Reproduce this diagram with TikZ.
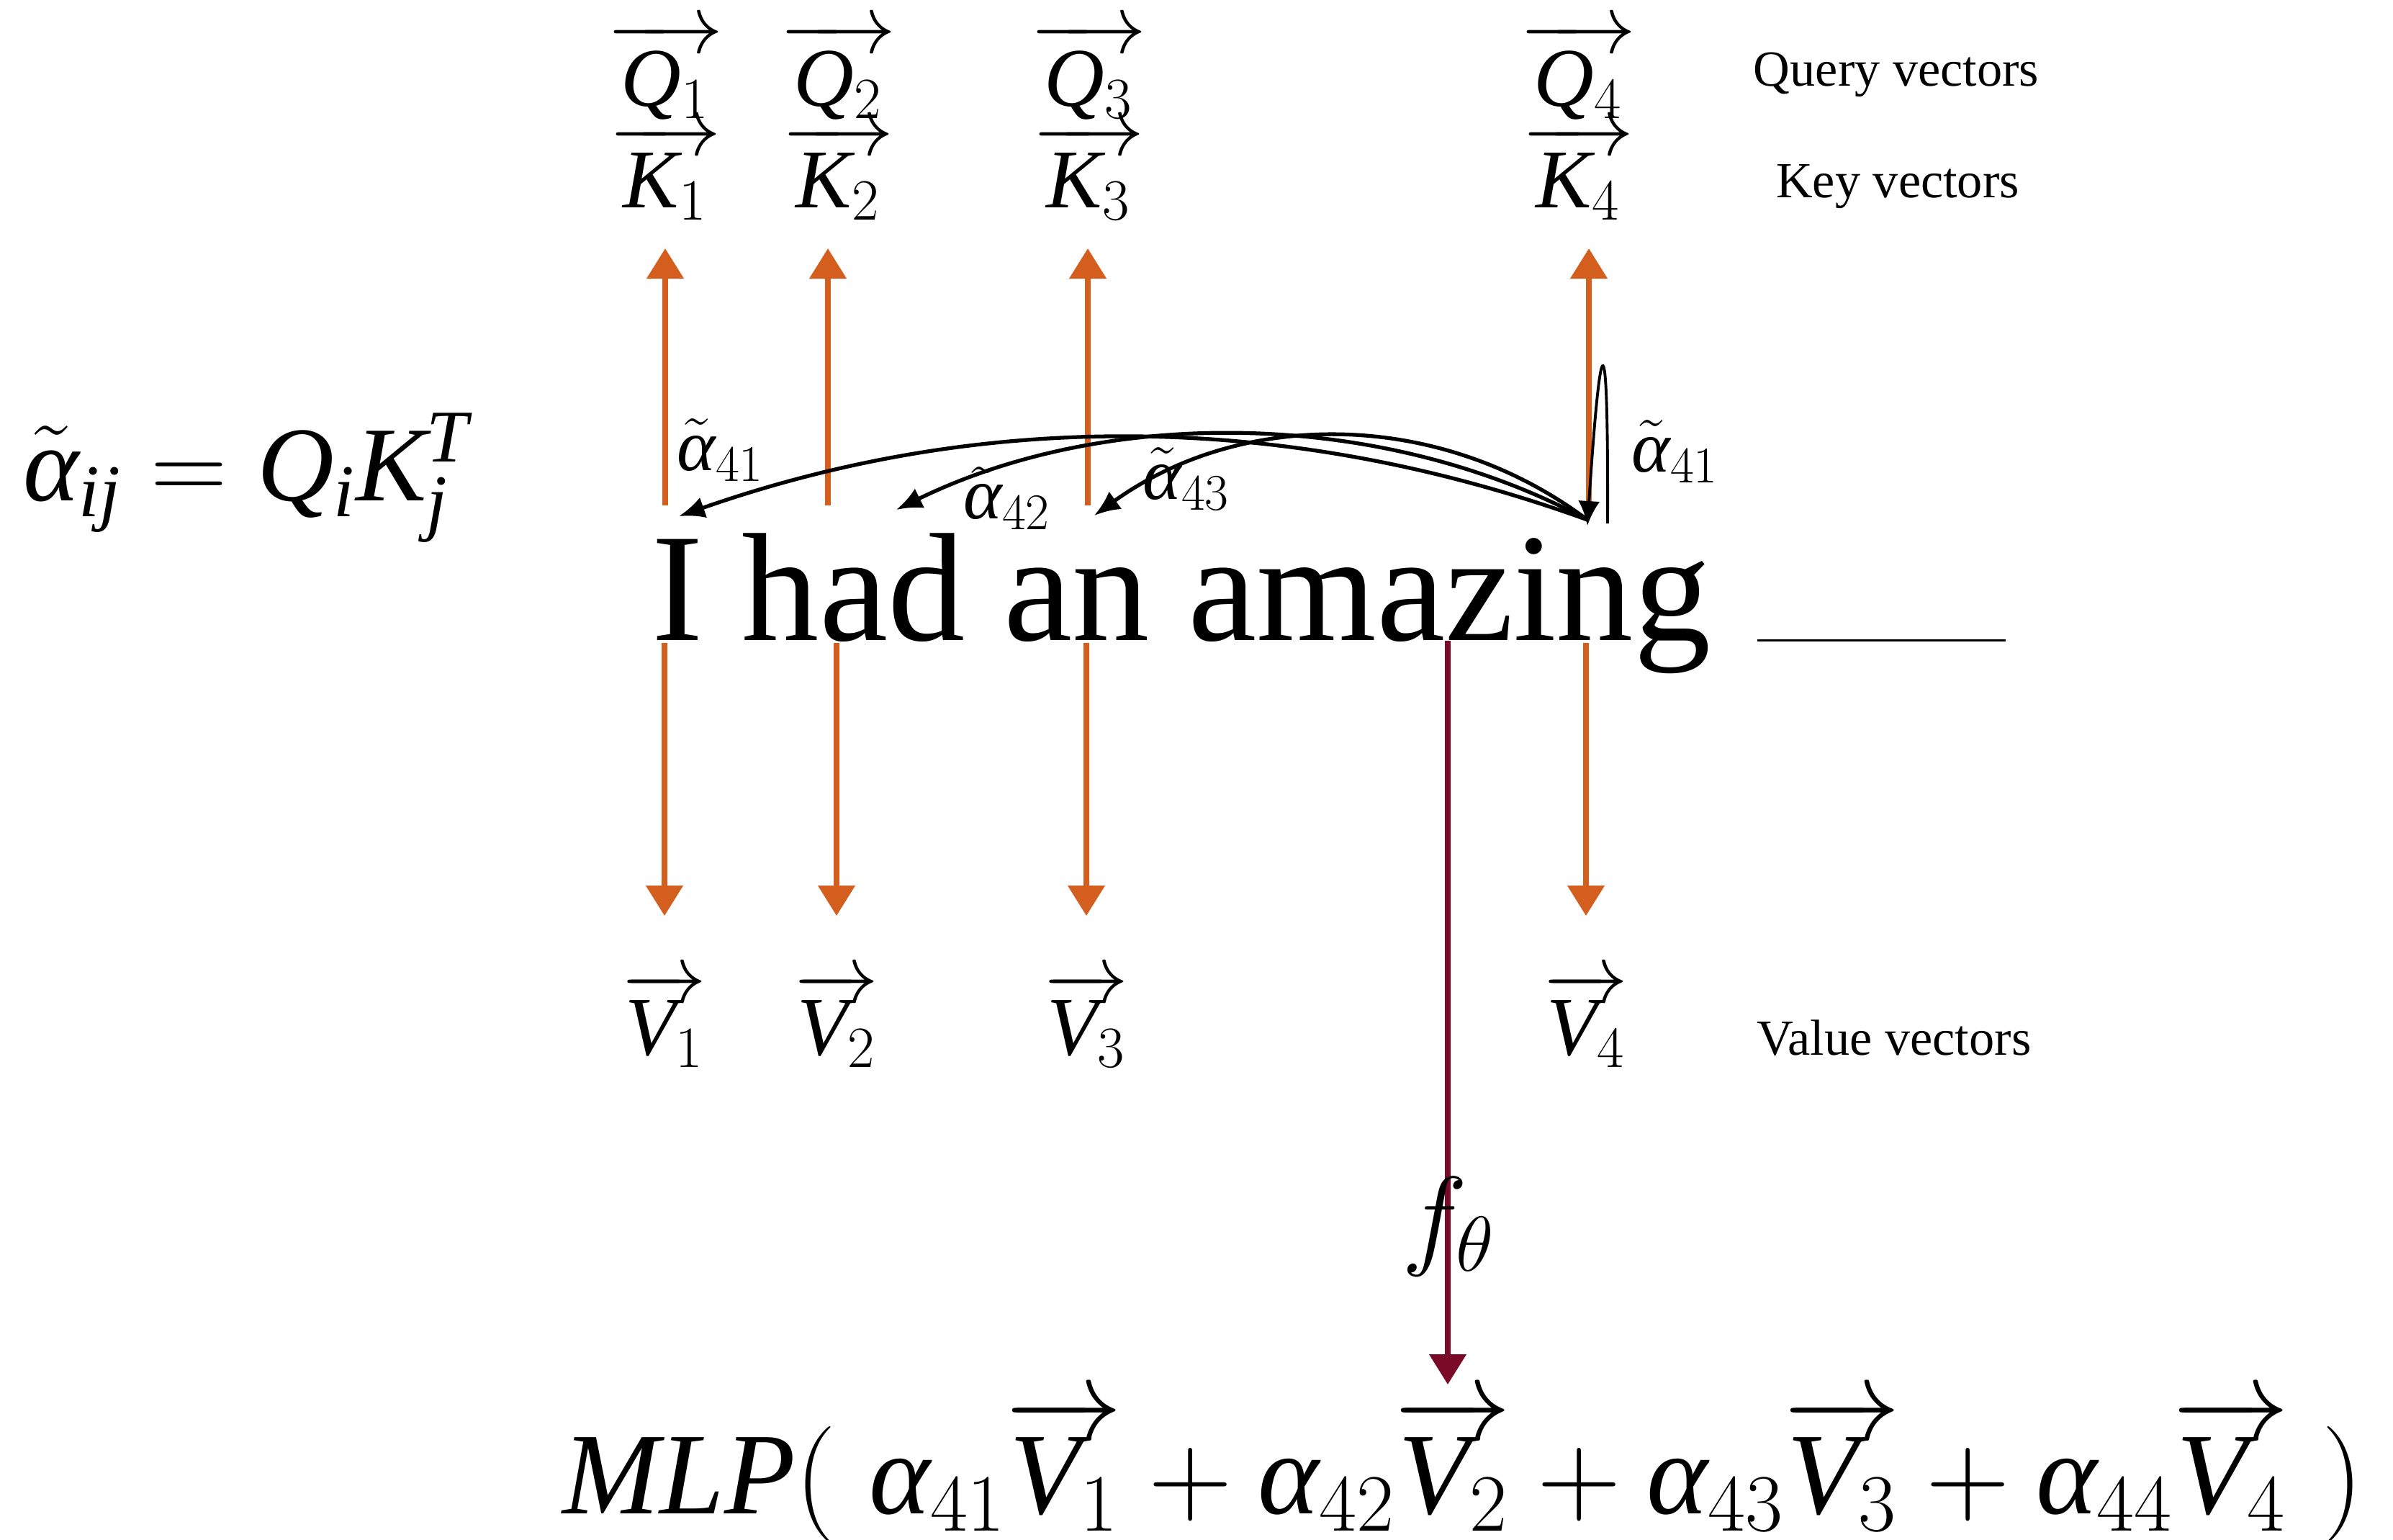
\RequirePackage{fix-cm}
\documentclass[tikz,border=0pt]{standalone}
\usepackage{fontspec}
\setmainfont{Liberation Serif}
\usetikzlibrary{arrows.meta}
\definecolor{orng}{RGB}{211,94,30}
\definecolor{burg}{RGB}{122,10,40}
\newcommand\galpha{\textit{α}}
\begin{document}
\begin{tikzpicture}[
  orarrow/.style={draw=orng, line width=2.2pt, -{Triangle[length=0.42cm,width=0.50cm]}},
  mlparrow/.style={draw=burg, line width=2.2pt, -{Triangle[length=0.42cm,width=0.50cm]}},
  attn/.style={draw=black, line width=1.5pt, -{Latex[length=0.36cm,width=0.30cm]}},
  selfattn/.style={draw=black, line width=1.1pt, -{Latex[length=0.34cm,width=0.30cm]}},
  vlab/.style={anchor=base, inner sep=0pt, font=\fontsize{33}{40}\selectfont},
  alab/.style={anchor=base, inner sep=0pt, font=\fontsize{29}{35}\selectfont},
  desc/.style={anchor=base, inner sep=0pt, font=\fontsize{20}{24}\selectfont},
]
\useasboundingbox (0,0) rectangle (33.24,-21.38);

% query / key vectors
\node[vlab] (q1) at (9.24,-1.47) {$\overrightarrow{\,\mathit{Q}_{1}\,}$};
\node[vlab] (q2) at (11.64,-1.47) {$\overrightarrow{\,\mathit{Q}_{2}\,}$};
\node[vlab] (q3) at (15.12,-1.47) {$\overrightarrow{\,\mathit{Q}_{3}\,}$};
\node[vlab] (q4) at (21.92,-1.47) {$\overrightarrow{\,\mathit{Q}_{4}\,}$};
\node[vlab] (k1) at (9.24,-2.88) {$\overrightarrow{\,\mathit{K}_{1}\,}$};
\node[vlab] (k2) at (11.64,-2.88) {$\overrightarrow{\,\mathit{K}_{2}\,}$};
\node[vlab] (k3) at (15.12,-2.88) {$\overrightarrow{\,\mathit{K}_{3}\,}$};
\node[vlab] (k4) at (21.92,-2.88) {$\overrightarrow{\,\mathit{K}_{4}\,}$};
\node[desc] (qdesc) at (26.34,-1.19) {Query vectors};
\node[desc] (kdesc) at (26.36,-2.74) {Key vectors};

% value vectors
\node[vlab] (v1) at (9.23,-14.65) {$\overrightarrow{\mathit{V}_{1}}$};
\node[vlab] (v2) at (11.62,-14.65) {$\overrightarrow{\mathit{V}_{2}}$};
\node[vlab] (v3) at (15.09,-14.65) {$\overrightarrow{\mathit{V}_{3}}$};
\node[vlab] (v4) at (22.03,-14.65) {$\overrightarrow{\mathit{V}_{4}}$};
\node[desc] (vdesc) at (26.31,-14.65) {Value vectors};

% sentence
\node[anchor=base, inner sep=0pt, font=\fontsize{61}{70}\selectfont] (sent) at (16.41,-8.89) {I had an amazing};
\node[anchor=south west, inner sep=0pt] (blank) at (24.40,-8.92) {\rule{3.45cm}{0.035cm}};

% left formula
\node[anchor=base, inner sep=0pt, font=\fontsize{42}{50}\selectfont] (eq) at (3.42,-6.95)
  {$\tilde{\galpha}_{\mathit{ij}} = \mathit{Q}_{\mathit{i}}\mathit{K}_{\mathit{j}}^{\mathit{T}}$};

% attention labels
\node[alab] (a41) at (10.01,-6.53) {$\tilde{\galpha}_{41}$};
\node[alab] (a42) at (13.99,-7.20) {$\tilde{\galpha}_{42}$};
\node[alab] (a43) at (16.48,-6.93) {$\tilde{\galpha}_{43}$};
\node[alab] (a44) at (23.27,-6.55) {$\tilde{\galpha}_{41}$};

% orange arrows up (to keys/queries)
\foreach \i/\x in {1/9.24, 2/11.50, 3/15.11, 4/22.07}{
  \coordinate (ub\i) at (\x,-7.02);
  \coordinate (ut\i) at (\x,-3.45);
  \draw[orarrow] (ub\i) -- (ut\i);
}
% orange arrows down (to values)
\foreach \i/\x in {1/9.23, 2/11.62, 3/15.09, 4/22.03}{
  \coordinate (db\i) at (\x,-8.93);
  \coordinate (dt\i) at (\x,-12.72);
  \draw[orarrow] (db\i) -- (dt\i);
}

% attention curves
\coordinate (src) at (22.05,-7.22);
\coordinate (t1) at (9.43,-7.17);
\coordinate (t2) at (12.45,-7.08);
\coordinate (t3) at (15.20,-7.16);
\draw[attn] (src) .. controls (17.85,-5.70) and (13.63,-5.70) .. (t1);
\draw[attn] (src) .. controls (19.15,-5.66) and (15.35,-5.66) .. (t2);
\draw[attn] (src) .. controls (20.00,-5.68) and (17.25,-5.68) .. (t3);
\coordinate (loopstart) at (22.33,-7.27);
\coordinate (self) at (22.05,-7.30);
\draw[selfattn] (loopstart) .. controls (22.34,-4.40) and (22.24,-4.40) .. (self);

% MLP arrow
\coordinate (mtop) at (20.11,-8.90);
\coordinate (mbot) at (20.11,-19.23);
\draw[mlparrow] (mtop) -- (mbot);
\node[anchor=base, inner sep=0pt, font=\fontsize{44}{52}\selectfont] (f) at (20.12,-17.42) {$f_\theta$};

% bottom formula
\node[anchor=base, inner sep=0pt, font=\fontsize{46}{55}\selectfont] (mlp) at (20.32,-21.02)
  {$\mathit{MLP}(\;\galpha_{41}\overrightarrow{\mathit{V}_{1}} + \galpha_{42}\overrightarrow{\mathit{V}_{2}} + \galpha_{43}\overrightarrow{\mathit{V}_{3}} + \galpha_{44}\overrightarrow{\mathit{V}_{4}}\;)$};
\end{tikzpicture}
\end{document}
